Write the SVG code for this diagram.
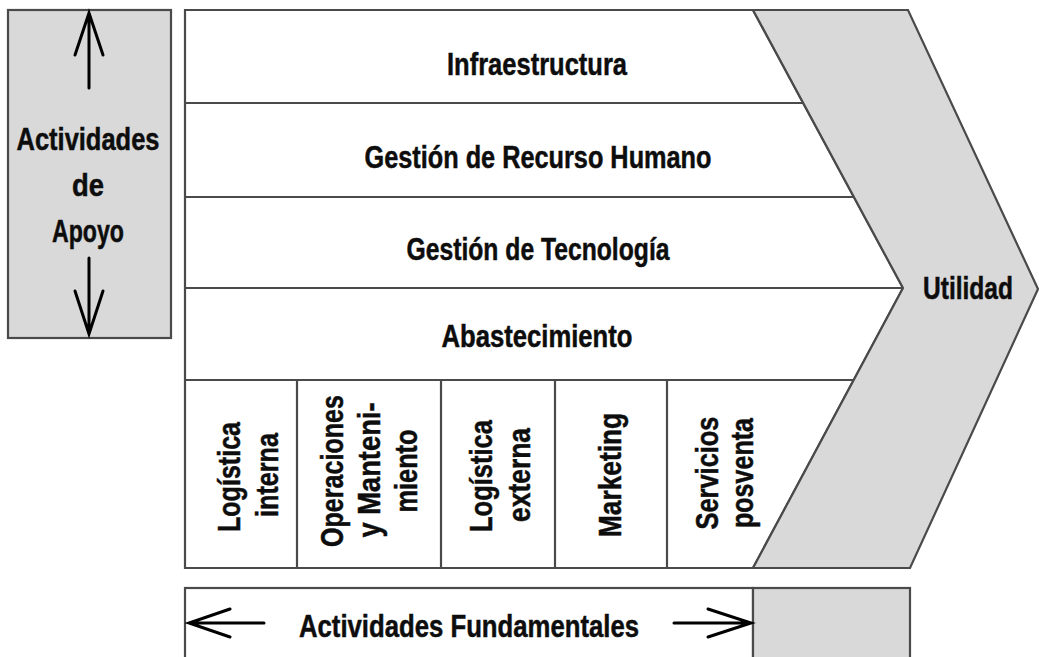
<svg xmlns="http://www.w3.org/2000/svg" width="1039" height="657" viewBox="0 0 1039 657">
<style>
.ln{stroke:#4a4a4a;stroke-width:2.2;fill:none}
.gray{fill:#d9d9d9;stroke:#4a4a4a;stroke-width:2.2}
.wh{fill:#ffffff;stroke:#4a4a4a;stroke-width:2.2}
.t{font-family:"Liberation Sans Narrow","Liberation Sans",Arial,sans-serif;font-weight:bold;font-size:32px;fill:#0d0d0d;stroke:#0d0d0d;stroke-width:0.5;text-anchor:middle}
.ar{stroke:#000;stroke-width:3;fill:none;stroke-linecap:round;stroke-linejoin:miter}
</style>
<rect width="1039" height="657" fill="#ffffff"/>
<g id="apoyo">
<rect class="gray" x="8" y="10" width="163" height="328"/>
<text class="t" x="88" y="150" textLength="143" lengthAdjust="spacingAndGlyphs">Actividades</text>
<text class="t" x="88" y="196" textLength="32" lengthAdjust="spacingAndGlyphs">de</text>
<text class="t" x="88" y="242" textLength="72" lengthAdjust="spacingAndGlyphs">Apoyo</text>
</g>
<g id="frame">
<polygon class="wh" points="185,10 753,10 903,288 753,568 185,568"/>
</g>
<g id="utilidad">
<polygon class="gray" points="753,10 908,10 1038,289 910,568 753,568 903,288"/>
<text class="t" x="968" y="299" textLength="90" lengthAdjust="spacingAndGlyphs">Utilidad</text>
</g>
<g id="infraestructura">
<text class="t" x="537" y="75" textLength="180" lengthAdjust="spacingAndGlyphs">Infraestructura</text>
</g>
<g id="rrhh">
<text class="t" x="538" y="168" textLength="347" lengthAdjust="spacingAndGlyphs">Gestión de Recurso Humano</text>
</g>
<g id="tecnologia">
<text class="t" x="538" y="260" textLength="263" lengthAdjust="spacingAndGlyphs">Gestión de Tecnología</text>
</g>
<g id="abastecimiento">
<text class="t" x="537" y="347" textLength="191" lengthAdjust="spacingAndGlyphs">Abastecimiento</text>
</g>
<g id="logistica-interna">
<text class="t" transform="translate(240,477) rotate(-90)" textLength="110" lengthAdjust="spacingAndGlyphs">Logística</text>
<text class="t" transform="translate(278,475) rotate(-90)" textLength="84" lengthAdjust="spacingAndGlyphs">interna</text>
</g>
<g id="operaciones">
<text class="t" transform="translate(343,471) rotate(-90)" textLength="152" lengthAdjust="spacingAndGlyphs">Operaciones</text>
<text class="t" transform="translate(380,470) rotate(-90)" textLength="135" lengthAdjust="spacingAndGlyphs">y Manteni-</text>
<text class="t" transform="translate(417,471) rotate(-90)" textLength="83" lengthAdjust="spacingAndGlyphs">miento</text>
</g>
<g id="logistica-externa">
<text class="t" transform="translate(492,476) rotate(-90)" textLength="112" lengthAdjust="spacingAndGlyphs">Logística</text>
<text class="t" transform="translate(530,475) rotate(-90)" textLength="94" lengthAdjust="spacingAndGlyphs">externa</text>
</g>
<g id="marketing">
<text class="t" transform="translate(621,475) rotate(-90)" textLength="124" lengthAdjust="spacingAndGlyphs">Marketing</text>
</g>
<g id="servicios">
<text class="t" transform="translate(718,473) rotate(-90)" textLength="113" lengthAdjust="spacingAndGlyphs">Servicios</text>
<text class="t" transform="translate(753,473) rotate(-90)" textLength="110" lengthAdjust="spacingAndGlyphs">posventa</text>
</g>
<g id="fundamentales">
<rect class="wh" x="185" y="588" width="568" height="80"/>
<rect class="gray" x="753" y="588" width="157" height="80"/>
<text class="t" x="469" y="637" textLength="340" lengthAdjust="spacingAndGlyphs">Actividades Fundamentales</text>
</g>
<g id="connectors">
<line class="ln" x1="185" y1="103" x2="803" y2="103"/>
<line class="ln" x1="185" y1="197" x2="854" y2="197"/>
<line class="ln" x1="185" y1="288" x2="903" y2="288"/>
<line class="ln" x1="185" y1="380" x2="853" y2="380"/>
<line class="ln" x1="297" y1="380" x2="297" y2="568"/>
<line class="ln" x1="441" y1="380" x2="441" y2="568"/>
<line class="ln" x1="555" y1="380" x2="555" y2="568"/>
<line class="ln" x1="667" y1="380" x2="667" y2="568"/>
<path class="ar" d="M89,88 V13 M75,55 L89,13 L103,55"/>
<path class="ar" d="M89,258 V334 M75,291 L89,334 L103,291"/>
<path class="ar" d="M264,623 H189 M230,609 L189,623 L230,637"/>
<path class="ar" d="M674,623 H751 M708,609 L751,623 L708,637"/>
</g>
</svg>
